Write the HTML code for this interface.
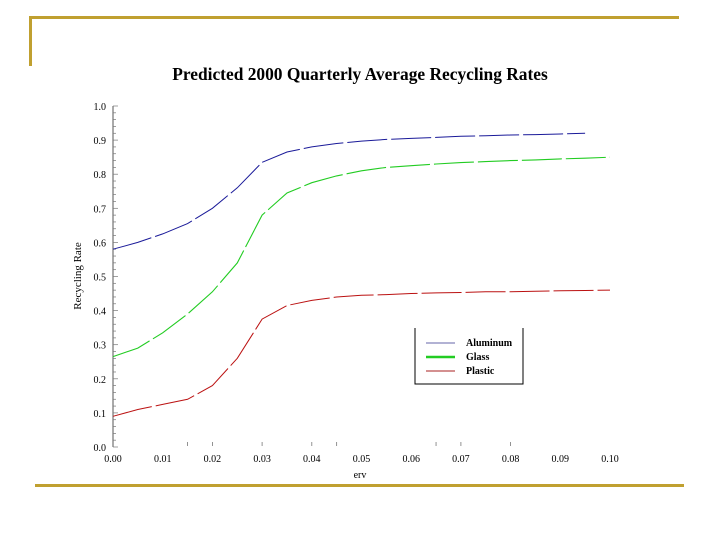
<!DOCTYPE html>
<html><head><meta charset="utf-8"><style>
html,body{margin:0;padding:0;background:#fff;}
svg{display:block;font-family:"Liberation Serif",serif;}
</style></head><body>
<svg id="chart" width="720" height="540">
<rect x="29" y="16" width="650" height="3" fill="#C0A030"/>
<rect x="29" y="16" width="3" height="50" fill="#C0A030"/>
<rect x="35" y="484" width="649" height="3" fill="#C0A030"/>
<text x="360" y="80" text-anchor="middle" font-size="17.4" font-weight="bold">Predicted 2000 Quarterly Average Recycling Rates</text>
<text transform="translate(81,276) rotate(-90)" text-anchor="middle" font-size="11">Recycling Rate</text>
<text x="360" y="478" text-anchor="middle" font-size="10">erv</text>
<g id="axes"></g>
<g id="series"></g>
<g>
<path d="M415,328 V384 H523 V328" fill="none" stroke="#000" stroke-width="1"/>
<line x1="426" y1="343" x2="455" y2="343" stroke="#6666aa" stroke-width="1"/>
<text x="466" y="346" font-size="10" font-weight="bold">Aluminum</text>
<line x1="426" y1="357" x2="455" y2="357" stroke="#22cc22" stroke-width="2.5"/>
<text x="466" y="360" font-size="10" font-weight="bold">Glass</text>
<line x1="426" y1="371" x2="455" y2="371" stroke="#aa2222" stroke-width="1"/>
<text x="466" y="374" font-size="10" font-weight="bold">Plastic</text>
</g>
</svg>
<script>
const xValues = [0,0.005,0.01,0.015,0.02,0.025,0.03,0.035,0.04,0.045,0.05,0.055,0.06,0.065,0.07,0.075,0.08,0.085,0.09,0.095,0.1];
const aluminum = [0.58,0.60,0.625,0.655,0.70,0.76,0.835,0.865,0.88,0.89,0.897,0.902,0.905,0.908,0.911,0.913,0.915,0.916,0.918,0.92];
const glass = [0.265,0.29,0.335,0.39,0.455,0.54,0.68,0.745,0.775,0.795,0.81,0.82,0.825,0.83,0.834,0.837,0.84,0.842,0.845,0.847,0.85];
const plastic = [0.09,0.11,0.125,0.14,0.18,0.26,0.375,0.415,0.43,0.44,0.445,0.447,0.45,0.452,0.453,0.455,0.455,0.457,0.458,0.459,0.46];
const xTicks = ["0.00","0.01","0.02","0.03","0.04","0.05","0.06","0.07","0.08","0.09","0.10"];
const yTicks = ["0.0","0.1","0.2","0.3","0.4","0.5","0.6","0.7","0.8","0.9","1.0"];
const NS="http://www.w3.org/2000/svg";
const X0=113,X1=610,Y0=447,Y1=106;
function sx(v){return X0+(v/0.1)*(X1-X0);}
function sy(v){return Y0-v*(Y0-Y1);}
const axes=document.getElementById('axes');
function mk(t,a,p){const e=document.createElementNS(NS,t);for(const k in a)e.setAttribute(k,a[k]);(p||axes).appendChild(e);return e;}
const ya=mk('line',{x1:X0,y1:Y1,x2:X0,y2:Y0,stroke:'#555','stroke-width':1});


for(let i=0;i<=50;i++){const y=sy(i/50);const len=(i%5===0)?5:3;mk('line',{x1:X0,y1:y,x2:X0+len,y2:y,stroke:'#777','stroke-width':0.7});}
yTicks.forEach(function(t){const v=parseFloat(t);
const e=mk('text',{x:X0-7,y:sy(v)+4,'text-anchor':'end','font-size':10});e.textContent=t;

});
xTicks.forEach(function(t){const v=parseFloat(t);
const e=mk('text',{x:sx(v),y:Y0+15,'text-anchor':'middle','font-size':10});e.textContent=t;

});
[0.015,0.02,0.03,0.04,0.045,0.065,0.07,0.08].forEach(function(v){mk('line',{x1:sx(v),y1:Y0-1,x2:sx(v),y2:Y0-5,stroke:'#777','stroke-width':0.8});});
const g=document.getElementById('series');
function draw(arr,color,name,w){
let d='';arr.forEach(function(v,i){d+=(i?'L':'M')+sx(xValues[i]).toFixed(1)+','+sy(v).toFixed(1);});
const p=mk('path',{d:d,fill:'none',stroke:color,'stroke-width':w,'stroke-dasharray':'40,4'},g);

}
draw(aluminum,'#1a1a99','aluminum-line',1);
draw(glass,'#22cc22','glass-line',1.1);
draw(plastic,'#bb1111','plastic-line',1);
</script>
</body></html>
